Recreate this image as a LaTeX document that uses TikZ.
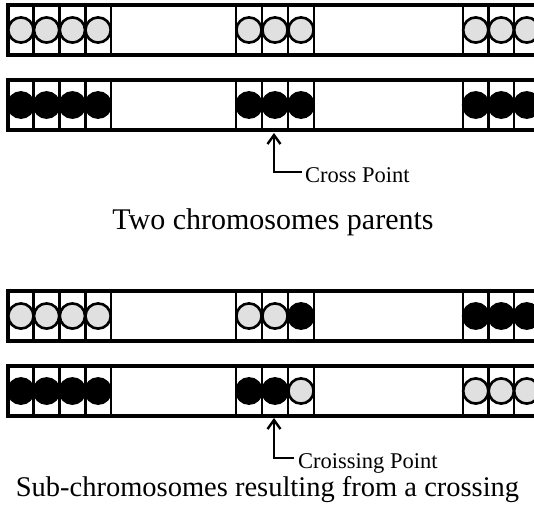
\documentclass[tikz,border=0pt]{standalone}
\usepackage{fontspec}
\setmainfont{Liberation Serif}
\usetikzlibrary{arrows.meta}
\begin{document}
\begin{tikzpicture}[x=1pt,y=-1pt,
  bar/.style={line width=3.2pt},
  cell/.style={line width=2.6pt},
  wbead/.style={fill=black!12, draw=black, line width=2.6pt},
  bbead/.style={fill=black, draw=black, line width=2.6pt},
  lbl/.style={font=\fontsize{22.5}{24}\selectfont, inner sep=0pt, text height=20pt, text depth=0pt, anchor=west},
  capA/.style={font=\fontsize{30}{32}\selectfont, inner sep=0pt, anchor=base},
  capB/.style={font=\fontsize{28.5}{31}\selectfont, inner sep=0pt, anchor=base},
  arr/.style={line width=2.6pt, -{Straight Barb[length=9pt,width=13pt,line width=2.4pt]}}]
\clip (0,0) rectangle (534,525);
\fill[white] (0,0) rectangle (534,525);
% chromosome bars and cell lines
\foreach \t in {5,80,291,366}{
  \foreach \x in {33.75,59.5,85.25,111,236,262,288,314,463,488.5,514,539.5}
    \draw[cell] (\x,\t) -- (\x,\t+50);
  \draw[bar] (8,\t) rectangle (560,\t+50);
}
% row 1: all light beads
\foreach \x in {20.9,46.6,72.4,98.1,249,275,301,475.75,501.25,526.75}
  \draw[wbead] (\x,30) circle (12.6);
% row 2: all black beads
\foreach \x in {20.9,46.6,72.4,98.1,249,275,301,475.75,501.25,526.75}
  \draw[bbead] (\x,105) circle (12.6);
% row 3
\foreach \x in {20.9,46.6,72.4,98.1,249,275}
  \draw[wbead] (\x,316) circle (12.6);
\foreach \x in {301,475.75,501.25,526.75}
  \draw[bbead] (\x,316) circle (12.6);
% row 4
\foreach \x in {301,475.75,501.25,526.75}
  \draw[wbead] (\x,391) circle (12.6);
\foreach \x in {20.9,46.6,72.4,98.1,249,275}
  \draw[bbead] (\x,391) circle (12.6);
% labels and arrows
\coordinate (tip1) at (274,133);
\coordinate (tip2) at (274,418);
\node[lbl] (cp) at (305,172) {Cross Point};
\node[lbl] (cip) at (298,458) {Croissing Point};
\draw[arr] ([xshift=-3pt]cp.west) -| (tip1);
\draw[arr] ([xshift=-4pt]cip.west) -| (tip2);
\node[capA] (t1) at (273,229) {Two chromosomes parents};
\node[capB] (t2) at (267.5,496) {Sub-chromosomes resulting from a crossing};
\end{tikzpicture}
\end{document}
